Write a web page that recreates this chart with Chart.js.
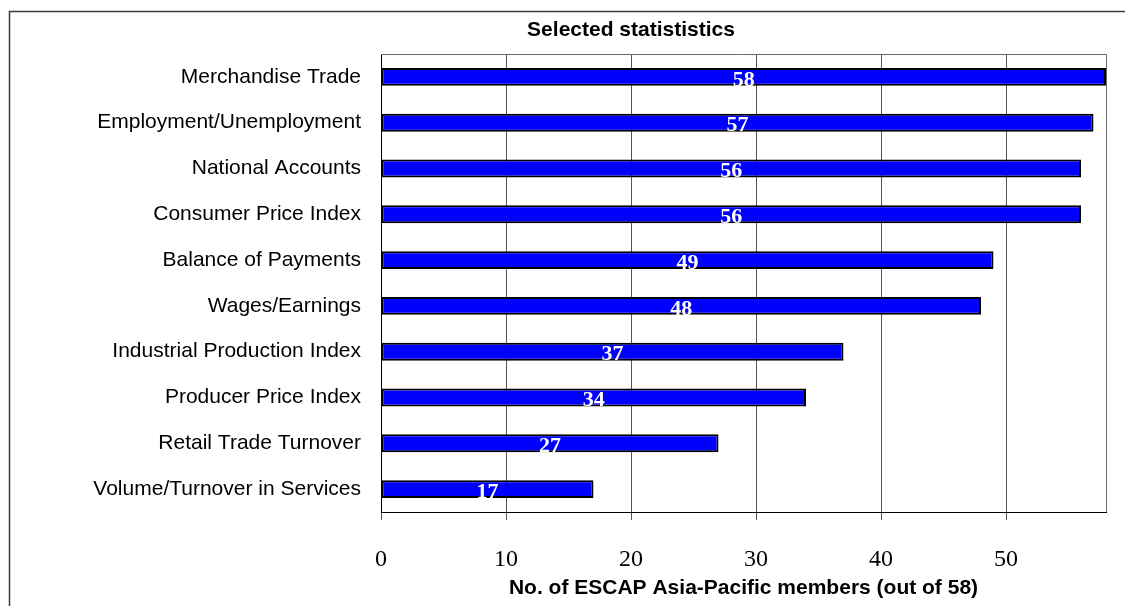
<!DOCTYPE html>
<html lang="en">
<head>
    <meta charset="UTF-8">
    <title>Selected statististics</title>
    <script src="https://cdn.jsdelivr.net/npm/chart.js"></script>
    <style>
        body { margin: 0; background: #fff; }
        #chart { display: block; }
    </style>
</head>
<body>
    <canvas id="chart" width="1125" height="606"></canvas>
    <script>
        // Series data
        const categories = [
            'Merchandise Trade',
            'Employment/Unemployment',
            'National Accounts',
            'Consumer Price Index',
            'Balance of Payments',
            'Wages/Earnings',
            'Industrial Production Index',
            'Producer Price Index',
            'Retail Trade Turnover',
            'Volume/Turnover in Services'
        ];
        const members = [58, 57, 56, 56, 49, 48, 37, 34, 27, 17];
        const chartTitle = 'Selected statististics';
        const axisTitle = 'No. of ESCAP Asia-Pacific members (out of 58)';

        // outer frame, plot frame and the heading
        const framePlugin = {
            id: 'frame',
            beforeDraw(chart) {
                const ctx = chart.ctx;
                ctx.save();
                ctx.strokeStyle = '#3a3a3a';
                ctx.lineWidth = 1.5;
                ctx.strokeRect(9.5, 11.5, 1400, 800);
                ctx.restore();
            },
            afterDraw(chart) {
                const ctx = chart.ctx;
                const a = chart.chartArea;
                ctx.save();
                ctx.strokeStyle = '#6a6a6a';
                ctx.lineWidth = 1;
                ctx.beginPath();
                ctx.moveTo(a.left, a.top + 0.5);
                ctx.lineTo(a.right + 0.5, a.top + 0.5);
                ctx.lineTo(a.right + 0.5, a.bottom);
                ctx.stroke();
                ctx.fillStyle = '#000';
                ctx.font = 'bold 21px "Liberation Sans", Arial, sans-serif';
                ctx.textAlign = 'center';
                ctx.textBaseline = 'middle';
                ctx.fillText(chartTitle, 631, 30);
                ctx.restore();
            }
        };

        // white value labels centred inside each bar
        const valueLabels = {
            id: 'valueLabels',
            afterDatasetsDraw(chart) {
                const ctx = chart.ctx;
                const meta = chart.getDatasetMeta(0);
                ctx.save();
                ctx.fillStyle = '#fff';
                ctx.font = 'bold 22px "Liberation Serif", serif';
                ctx.textAlign = 'center';
                ctx.textBaseline = 'middle';
                meta.data.forEach((bar, i) => {
                    const p = bar.getProps(['x', 'y', 'base'], true);
                    ctx.fillText(members[i], (p.x + p.base) / 2, p.y + 3);
                });
                ctx.restore();
            }
        };

        new Chart(document.getElementById('chart'), {
            type: 'bar',
            data: {
                labels: categories,
                datasets: [{
                    data: members,
                    backgroundColor: '#0000ff',
                    borderColor: '#000',
                    borderWidth: 2,
                    borderSkipped: false,
                    barPercentage: 0.39,
                    categoryPercentage: 1
                }]
            },
            options: {
                indexAxis: 'y',
                responsive: false,
                animation: false,
                layout: { padding: { left: 0, right: 19, top: 54, bottom: 5 } },
                plugins: {
                    legend: { display: false },
                    tooltip: { enabled: false }
                },
                scales: {
                    x: {
                        min: 0,
                        max: 58,
                        afterFit(scale) { scale.height = 89; },
                        ticks: {
                            stepSize: 10,
                            includeBounds: false,
                            padding: 25,
                            color: '#000',
                            font: { family: '"Liberation Serif", serif', size: 24 }
                        },
                        grid: { color: '#555', tickLength: 8 },
                        border: { color: '#000', width: 1 },
                        title: {
                            display: true,
                            text: axisTitle,
                            color: '#000',
                            font: { family: '"Liberation Sans", Arial, sans-serif', size: 21, weight: 'bold' },
                            padding: 0
                        }
                    },
                    y: {
                        afterFit(scale) { scale.width = 381; },
                        ticks: {
                            padding: 20,
                            color: '#000',
                            font: { family: '"Liberation Sans", Arial, sans-serif', size: 21 }
                        },
                        grid: { display: false, drawTicks: false },
                        border: { color: '#000', width: 1 }
                    }
                }
            },
            plugins: [framePlugin, valueLabels]
        });
    </script>
</body>
</html>
